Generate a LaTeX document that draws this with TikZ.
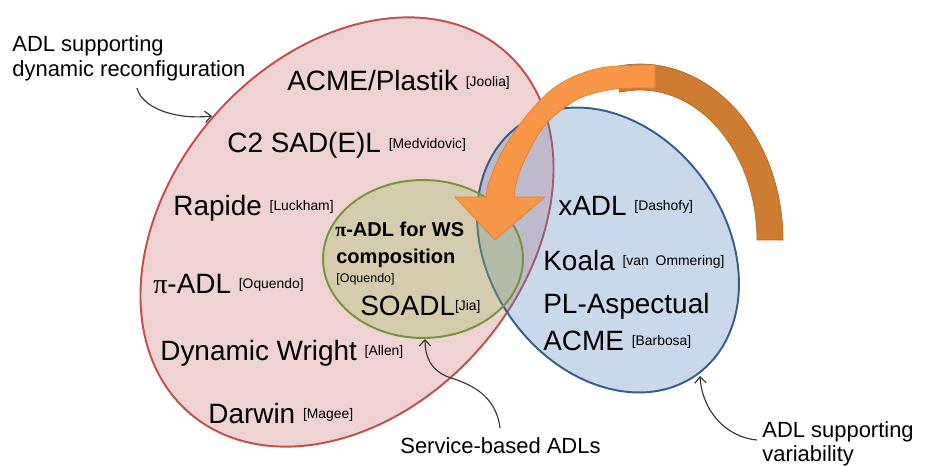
\documentclass[tikz,border=0pt]{standalone}
\usepackage{fontspec}
\setmainfont{Liberation Sans}
\newfontfamily\pifont{Liberation Serif}
\usetikzlibrary{arrows.meta}

\definecolor{redline}{RGB}{192,80,77}
\definecolor{redfill}{RGB}{192,80,77}
\definecolor{bluefill}{RGB}{79,129,189}
\definecolor{blueline}{RGB}{56,93,138}
\definecolor{greenfill}{RGB}{155,187,89}
\definecolor{greenline}{RGB}{119,147,60}
\definecolor{orangelight}{RGB}{247,150,70}
\definecolor{orangeedge}{RGB}{228,128,50}
\definecolor{orangedark}{RGB}{206,124,50}
\definecolor{pointergray}{RGB}{55,55,55}

% small raised reference tag after a language name
\newcommand{\cit}[1]{\raisebox{2.8pt}{\fontsize{7.9}{9}\selectfont #1}}
\newcommand{\pisym}{{\pifont π}}

\tikzset{
  item/.style={anchor=base west, inner sep=0pt, font=\fontsize{15.9}{19}\selectfont},
  subitem/.style={anchor=base west, inner sep=0pt, font=\bfseries\fontsize{11.4}{13}\selectfont},
  note/.style={anchor=base west, inner sep=0pt, font=\fontsize{12.5}{15}\selectfont},
  pointer/.style={draw=pointergray, line width=0.65pt,
    -{Straight Barb[length=3.5pt,width=6.5pt]}},
}

\begin{document}
\begin{tikzpicture}[x=0.02cm, y=-0.02cm]
  \fill[white] (0,0) rectangle (926,466);
  \useasboundingbox (0,0) rectangle (926,466);

  % ADLs supporting dynamic reconfiguration
  \filldraw[fill=redfill, fill opacity=0.25, draw=redline, line width=1.1pt,
    rotate around={48.7:(347,232)}] (347,232) ellipse [x radius=4.8cm, y radius=3.53cm];
  % ADLs supporting variability
  \filldraw[fill=bluefill, fill opacity=0.3, draw=blueline, line width=1.1pt,
    rotate around={-54.8:(608,250)}] (608,250) ellipse [x radius=3.06cm, y radius=2.37cm];
  % service-based ADLs
  \filldraw[fill=greenfill, fill opacity=0.3, draw=greenline, line width=1.1pt]
    (423,259) ellipse [x radius=2cm, y radius=1.58cm];

  % curved arrow: back band
  \filldraw[fill=orangedark, draw=orangedark!85!black, line width=0.4pt]
    (783,240) arc[start angle=0, end angle=100, x radius=2.86cm, y radius=3.52cm]
    -- (619.7,92.3) arc[start angle=100, end angle=0, x radius=2.34cm, y radius=3cm]
    -- cycle;
  % curved arrow: front band with head
  \filldraw[fill=orangelight, draw=orangeedge, line width=0.4pt]
    plot[smooth, tension=0.55] coordinates {(655,65) (600,68) (558,85) (527,115) (503,150) (489,182) (486,197)}
    -- (455,197) -- (495,240) -- (545,197) -- (514,197)
    -- plot[smooth, tension=0.55] coordinates {(514,197) (517,180) (527,155) (546,124) (578,99) (615,89) (655,88)}
    -- cycle;

  % languages with dynamic reconfiguration
  \node[item] (acme) at (287,91) {ACME/Plastik \cit{[Joolia]}};
  \node[item] (c2) at (227,153) {C2 SAD(E)L \cit{[Medvidovic]}};
  \node[item] (rapide) at (173,215) {Rapide \cit{[Luckham]}};
  \node[item] (piadl) at (153,293) {\pisym-ADL \cit{[Oquendo]}};
  \node[item] (dynw) at (160,360) {Dynamic Wright \cit{[Allen]}};
  \node[item] (darwin) at (208,423) {Darwin \cit{[Magee]}};

  % service-based languages
  \node[subitem] (piws) at (335,236) {\pisym-ADL for WS};
  \node[subitem] (comp) at (336,263) {composition};
  \node[anchor=base west, inner sep=0pt, font=\fontsize{7.1}{8}\selectfont] (oq) at (336,282) {[Oquendo]};
  \node[item] (soadl) at (360,315) {SOADL\cit{[Jia]}};

  % languages with variability
  \node[item] (xadl) at (558,215) {xADL \cit{[Dashofy]}};
  \node[item] (koala) at (543,270) {Koala \cit{[van\hspace{0.5em}Ommering]}};
  \node[item] (plasp) at (543,313) {PL-Aspectual};
  \node[item] (placme) at (543,350) {ACME \cit{[Barbosa]}};

  % captions
  \node[note] (dyn1) at (12,52) {ADL supporting};
  \node[note] (dyn2) at (12,77) {dynamic reconfiguration};
  \node[note] (svc) at (400,453) {Service-based ADLs};
  \node[note] (var1) at (762,437) {ADL supporting};
  \node[note] (var2) at (762,461) {variability};

  % pointers from captions to the sets
  \coordinate (dynS) at (137,88);
  \coordinate (dynE) at (212,116);
  \draw[pointer] (dynS) .. controls (142,108) and (175,120) .. (dynE);
  \coordinate (svcS) at (500,428);
  \coordinate (svcE) at (425,339);
  \draw[pointer] (svcS) .. controls (496,395) and (470,384) .. (451,378)
    .. controls (430,371) and (425,356) .. (svcE);
  \coordinate (varS) at (757,440);
  \coordinate (varE) at (700,376);
  \draw[pointer] (varS) .. controls (725,437) and (702,410) .. (varE);
\end{tikzpicture}
\end{document}
